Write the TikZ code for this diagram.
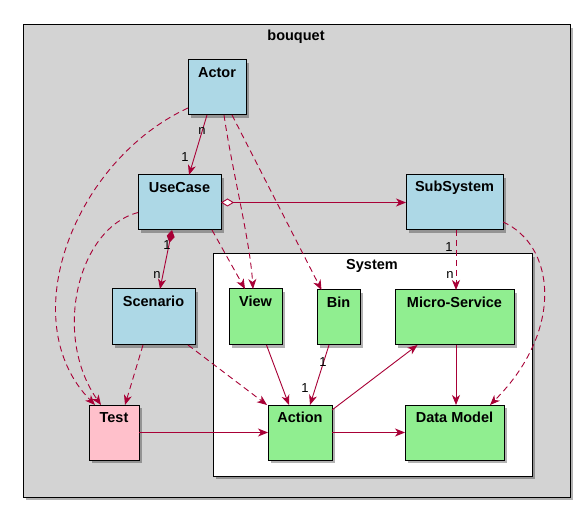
\documentclass[tikz,border=0pt]{standalone}
\usepackage{fontspec}
\setmainfont{Liberation Sans}
\usetikzlibrary{arrows.meta,shadows,calc}
\definecolor{edge}{HTML}{A80036}
\definecolor{lblue}{HTML}{ADD8E6}
\definecolor{lgreen}{HTML}{90EE90}
\definecolor{lpink}{HTML}{FFC0CB}
\definecolor{lgray}{HTML}{D3D3D3}
\tikzset{
  shad/.style={drop shadow={shadow xshift=3pt,shadow yshift=-3pt,fill=black,opacity=0.3}},
  cls/.style={draw=black,line width=1pt,rectangle,anchor=north west,inner sep=0pt,outer sep=0pt,shad},
  frame/.style={draw=black,line width=1pt,rectangle,anchor=north west,inner sep=0pt,outer sep=0pt,shad},
  ttl/.style={font=\bfseries\fontsize{14.5}{16}\selectfont,anchor=center},
  lbl/.style={font=\fontsize{13}{14}\selectfont,anchor=center,inner sep=0pt},
  tip/.style={-{Stealth[length=10pt,width=8pt,inset=3pt]}},
  rel/.style={draw=edge,line width=0.9pt,tip},
  dep/.style={draw=edge,line width=0.9pt,tip,dash pattern=on 6pt off 4pt},
}
\newcommand\clsnode[7]{%
  \node[cls,fill=#2,minimum width=#5,minimum height=#6] (#1) at (#3,#4) {};
  \node[ttl] at ([yshift=-12.5pt]#1.north) {#7};}
\begin{document}
\begin{tikzpicture}[x=1pt,y=-1pt]
\useasboundingbox[fill=white] (0,0) rectangle (578,510);
\node[frame,fill=lgray,minimum width=547,minimum height=472] (bouquet) at (23,25) {};
\node[ttl] at (296,37) {bouquet};
\node[frame,fill=white,minimum width=319,minimum height=222] (system) at (213,254) {};
\node[ttl] at (372,266) {System};

\clsnode{actor}{lblue}{188}{60}{58}{55}{Actor}
\clsnode{usecase}{lblue}{138}{175}{83}{55}{UseCase}
\clsnode{subsystem}{lblue}{406}{175}{97}{55}{SubSystem}
\clsnode{scenario}{lblue}{112}{289}{83}{56}{Scenario}
\clsnode{view}{lgreen}{229}{289}{53}{56}{View}
\clsnode{bin}{lgreen}{317}{290}{43}{55}{Bin}
\clsnode{micro}{lgreen}{395}{290}{119}{55}{Micro-Service}
\clsnode{test}{lpink}{89}{405}{50}{55}{Test}
\clsnode{action}{lgreen}{268}{405}{64}{55}{Action}
\clsnode{datamodel}{lgreen}{405}{405}{99}{55}{Data Model}

% Actor -> UseCase
\draw[rel] ([xshift=-10pt]actor.south) -- ([xshift=9.5pt]usecase.north);
\node[lbl] at (202,131) {n};
\node[lbl] at (185,157) {1};
% Actor ..> Test
\draw[dep] ([yshift=7pt]actor.south west) .. controls (75,160) and (12,320) .. ([xshift=-19pt]test.north);
% UseCase ..> Test
\draw[dep] ([yshift=-10pt]usecase.west) .. controls (78,228) and (52,335) .. ([xshift=-13pt]test.north);
% Actor ..> View
\draw[dep] ([xshift=7pt]actor.south) .. controls (232,170) and (250,240) .. ([xshift=-2.5pt]view.north);
% Actor ..> Bin
\draw[dep] ([xshift=15pt]actor.south) -- ([xshift=-17pt]bin.north);
% UseCase o-> SubSystem
\draw[draw=edge,line width=0.9pt,{Diamond[length=13pt,width=8pt,fill=white]}-{Stealth[length=10pt,width=8pt,inset=3pt]}] (usecase.east) -- (subsystem.west);
% UseCase *-> Scenario
\draw[draw=edge,line width=0.9pt,{Diamond[length=13pt,width=8pt,fill=edge]}-{Stealth[length=10pt,width=8pt,inset=3pt]}] ([xshift=-7.5pt]usecase.south) -- ([xshift=6.5pt]scenario.north);
\node[lbl] at (167,245) {1};
\node[lbl] at (157,275) {n};
% UseCase ..> View
\draw[dep] ([xshift=32.5pt]usecase.south) -- ([xshift=-10.5pt]view.north);
% SubSystem ..> Micro-Service
\draw[dep] ([xshift=1.5pt]subsystem.south) -- ([xshift=1.5pt]micro.north);
\node[lbl] at (449,247) {1};
\node[lbl] at (450,275) {n};
% SubSystem ..> Data Model
\draw[dep] ([yshift=8pt]subsystem.south east) .. controls (555,245) and (565,330) .. ([xshift=35.5pt]datamodel.north);
% Scenario ..> Test
\draw[dep] ([xshift=-10.5pt]scenario.south) -- ([xshift=11pt]test.north);
% Scenario ..> Action
\draw[dep] ([xshift=34.5pt]scenario.south) -- ([xshift=-1pt]action.north west);
% View -> Action
\draw[rel] ([xshift=11pt]view.south) -- ([xshift=-11pt]action.north);
% Bin -> Action
\draw[rel] ([xshift=-9.5pt]bin.south) -- ([xshift=10pt]action.north);
\node[lbl] at (323,362) {1};
\node[lbl] at (305,388) {1};
% Action -> Micro-Service
\draw[rel] ([yshift=-5pt]action.north east) -- ([xshift=-37pt]micro.south);
% Action -> Data Model
\draw[rel] (action.east) -- (datamodel.west);
% Test -> Action
\draw[rel] (test.east) -- (action.west);
% Micro-Service -> Data Model
\draw[rel] ([xshift=1.5pt]micro.south) -- ([xshift=1.5pt]datamodel.north);
\end{tikzpicture}
\end{document}
